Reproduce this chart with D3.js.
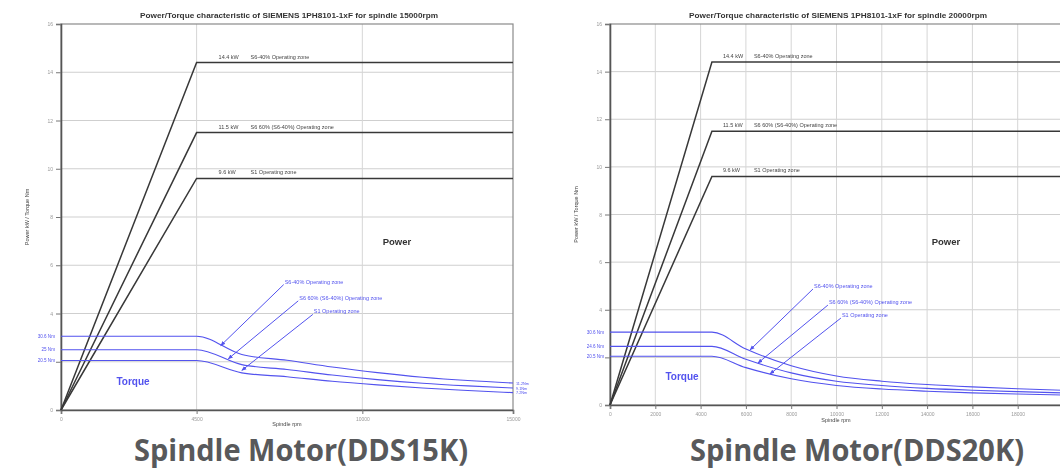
<!DOCTYPE html>
<html><head><meta charset="utf-8">
<script src="https://cdn.jsdelivr.net/npm/d3@7"></script>
<style>html,body{margin:0;padding:0;background:#fff;} svg{display:block;font-family:"Liberation Sans",Arial,sans-serif;}</style>
</head><body><svg id="c" width="1060" height="475"></svg>
<script>
// ---------------- data ----------------
const chartTitles = ["Power/Torque characteristic of SIEMENS 1PH8101-1xF for spindle 15000rpm",
                     "Power/Torque characteristic of SIEMENS 1PH8101-1xF for spindle 20000rpm"];
const captions = ["Spindle Motor(DDS15K)", "Spindle Motor(DDS20K)"];
const zoneNames = ["S6-40% Operating zone", "S6 60% (S6-40%) Operating zone", "S1 Operating zone"];
const powerKW = [14.4, 11.5, 9.6];
const kneeRpm = 4500;
const maxRpm = [15000, 20000];
const yTicks = [0, 2, 4, 6, 8, 10, 12, 14, 16];
const yTickLabelled = [0, 4, 6, 8, 10, 12, 14, 16];
const xTicks15 = [0, 4500, 10000, 15000];
const xTicks20 = [0, 2000, 4000, 6000, 8000, 10000, 12000, 14000, 16000, 18000];
const rpm15 = [0, 4500, 6000, 7500, 9000, 10500, 12000, 13500, 15000];
const torqueTop15 = [30.6, 30.6, 23.0, 20.6, 17.8, 15.5, 13.6, 12.2, 11.2];
const torqueMid15 = [25.0, 25.0, 18.8, 16.8, 14.5, 12.6, 11.1, 10.0, 9.1];
const torqueBot15 = [20.5, 20.5, 15.4, 13.8, 11.9, 10.4, 9.1, 8.1, 7.2];
const rpm20 = [0, 4500, 6000, 8000, 10000, 12000, 14000, 16000, 18000, 20000];
const torqueTop20 = [30.6, 30.6, 23.5, 16.5, 12.2, 10.0, 8.6, 7.6, 6.8, 6.2];
const torqueMid20 = [24.6, 24.6, 19.2, 13.5, 10.0, 8.2, 7.0, 6.2, 5.6, 5.1];
const torqueBot20 = [20.5, 20.5, 15.7, 11.0, 8.2, 6.7, 5.8, 5.1, 4.6, 4.2];
const arrowRpm15 = [5300, 5550, 6000];
const arrowTorque15 = [26.7, 21.2, 16.4];
const arrowRpm20 = [6180, 6530, 7060];
const arrowTorque20 = [23.1, 17.6, 13.0];

// ---------------- layout ----------------
const panels = [
  {x0: 61, x1: 513, yTop: 24, yBot: 410, xMax: maxRpm[0], xTicks: xTicks15, rpm: rpm15,
   torque: [torqueTop15, torqueMid15, torqueBot15], aR: arrowRpm15, aT: arrowTorque15,
   title: chartTitles[0], caption: captions[0], valOff: 22, zoneOff: 54, capX: 301, endLabels: true},
  {x0: 610, x1: 1063, yTop: 24, yBot: 405, xMax: maxRpm[1], xTicks: xTicks20, rpm: rpm20,
   torque: [torqueTop20, torqueMid20, torqueBot20], aR: arrowRpm20, aT: arrowTorque20,
   title: chartTitles[1], caption: captions[1], valOff: 11, zoneOff: 42, capX: 857, endLabels: false}
];
const annOff = [[63, -62], [70, -59], [71, -57]];
const blue = "#5252ee";
const svg = d3.select("#c");
const defs = svg.append("defs");
defs.append("filter").attr("id", "soft").append("feGaussianBlur").attr("stdDeviation", 0.45);
defs.append("marker").attr("id", "ah").attr("viewBox", "0 0 10 10").attr("refX", 9).attr("refY", 5)
  .attr("markerWidth", 5).attr("markerHeight", 5).attr("orient", "auto")
  .append("path").attr("d", "M0,1 L10,5 L0,9 z").attr("fill", blue);

panels.forEach((p, pi) => {
  defs.append("clipPath").attr("id", "clip" + pi).append("rect")
    .attr("x", pi === 0 ? 0 : 532).attr("y", 0).attr("width", pi === 0 ? 532 : 528).attr("height", 430);
  const g = svg.append("g").attr("clip-path", `url(#clip${pi})`).attr("filter", "url(#soft)");
  const x = d3.scaleLinear().domain([0, p.xMax]).range([p.x0, p.x1]);
  const yP = d3.scaleLinear().domain([0, 16]).range([p.yBot, p.yTop]);
  const yT = d3.scaleLinear().domain([0, 160]).range([p.yBot, p.yTop]);

  // grid
  g.append("g").selectAll("line").data(yTicks.filter(d => d > 0 && d < 16)).join("line")
    .attr("x1", p.x0).attr("x2", p.x1).attr("y1", d => yP(d)).attr("y2", d => yP(d))
    .attr("stroke", "#cfcfcf").attr("stroke-width", 1);
  g.append("g").selectAll("line").data(p.xTicks.filter(d => d > 0 && d < p.xMax)).join("line")
    .attr("x1", d => x(d)).attr("x2", d => x(d)).attr("y1", p.yTop).attr("y2", p.yBot)
    .attr("stroke", "#d6d6d6").attr("stroke-width", 1);
  // frame
  g.append("rect").attr("x", p.x0).attr("y", p.yTop).attr("width", p.x1 - p.x0).attr("height", p.yBot - p.yTop)
    .attr("fill", "none").attr("stroke", "#8a8a8a").attr("stroke-width", 1.2);

  // axes
  const ax = g.append("g").attr("transform", `translate(${p.x0},0)`)
    .call(d3.axisLeft(yP).tickValues(yTicks).tickSize(5).tickPadding(3)
      .tickFormat(d => yTickLabelled.includes(d) ? d : ""));
  const bx = g.append("g").attr("transform", `translate(0,${p.yBot})`)
    .call(d3.axisBottom(x).tickValues(p.xTicks).tickSize(4).tickPadding(3).tickFormat(d3.format("d")));
  [ax, bx].forEach(a => {
    a.select(".domain").attr("stroke", "#555").attr("stroke-width", 1.6);
    a.selectAll(".tick line").attr("stroke", "#777");
    a.selectAll("text").attr("fill", "#999").attr("font-size", 5);
  });

  // power curves
  const pLine = d3.line().x(d => x(d[0])).y(d => yP(d[1]));
  powerKW.forEach((pw, i) => {
    g.append("path").attr("d", pLine([[0, 0], [kneeRpm, pw], [p.xMax, pw]]))
      .attr("fill", "none").attr("stroke", "#383838").attr("stroke-width", 1.5);
    g.append("text").attr("x", x(kneeRpm) + p.valOff).attr("y", yP(pw) - 4)
      .attr("font-size", 5.5).attr("fill", "#444").text(pw + " kW");
    g.append("text").attr("x", x(kneeRpm) + p.zoneOff).attr("y", yP(pw) - 4)
      .attr("font-size", 5.5).attr("fill", "#444").text(zoneNames[i]);
  });

  // torque curves
  const tLine = d3.line().x((d, j) => x(p.rpm[j])).y(d => yT(d)).curve(d3.curveMonotoneX);
  p.torque.forEach((tv, i) => {
    g.append("path").attr("d", tLine(tv)).attr("fill", "none").attr("stroke", blue).attr("stroke-width", 1.1);
    g.append("text").attr("x", p.x0 - 6).attr("y", yT(tv[0]) + 1.8).attr("text-anchor", "end")
      .attr("font-size", 4.6).attr("fill", blue).text(tv[0] + " Nm");
    if (p.endLabels) {
      g.append("text").attr("x", p.x1 + 3).attr("y", yT(tv[tv.length - 1]) + 1.6)
        .attr("font-size", 3.8).attr("fill", blue).text(tv[tv.length - 1] + "Nm");
    }
  });

  // annotations
  p.aR.forEach((r, i) => {
    const tx = x(r), ty = yT(p.aT[i]);
    const lx = tx + annOff[i][0], ly = ty + annOff[i][1];
    g.append("line").attr("x1", lx).attr("y1", ly + 1).attr("x2", tx).attr("y2", ty)
      .attr("stroke", blue).attr("stroke-width", 1).attr("marker-end", "url(#ah)");
    g.append("text").attr("x", lx + 1).attr("y", ly).attr("font-size", 5.5).attr("fill", blue).text(zoneNames[i]);
  });

  // labels
  g.append("text").attr("x", p.x0 + 336).attr("y", 245).attr("text-anchor", "middle")
    .attr("font-size", 9.5).attr("font-weight", "bold").attr("fill", "#333").text("Power");
  g.append("text").attr("x", p.x0 + 72).attr("y", p.yBot - 25).attr("text-anchor", "middle")
    .attr("font-size", 10).attr("font-weight", "bold").attr("fill", blue).text("Torque");
  g.append("text").attr("transform", `translate(${p.x0 - 32},${(p.yTop + p.yBot) / 2}) rotate(-90)`)
    .attr("text-anchor", "middle").attr("font-size", 5.5).attr("fill", "#444").text("Power kW / Torque Nm");
  g.append("text").attr("x", p.x0 + 226).attr("y", Math.min(p.yBot + 17, 426)).attr("text-anchor", "middle")
    .attr("font-size", 5.5).attr("fill", "#444").text("Spindle rpm");
  g.append("text").attr("x", p.x0 + 228).attr("y", 18).attr("text-anchor", "middle")
    .attr("font-size", 6.5).attr("font-weight", "bold").attr("fill", "#333")
    .attr("textLength", 298).attr("lengthAdjust", "spacingAndGlyphs").text(p.title);

  // caption
  svg.append("text").attr("x", p.capX).attr("y", 461).attr("text-anchor", "middle")
    .attr("font-family", "'Open Sans', sans-serif").attr("font-size", 31).attr("font-weight", 700)
    .attr("fill", "#58595b").attr("textLength", 334).attr("lengthAdjust", "spacingAndGlyphs").text(p.caption);
});
</script></body></html>
